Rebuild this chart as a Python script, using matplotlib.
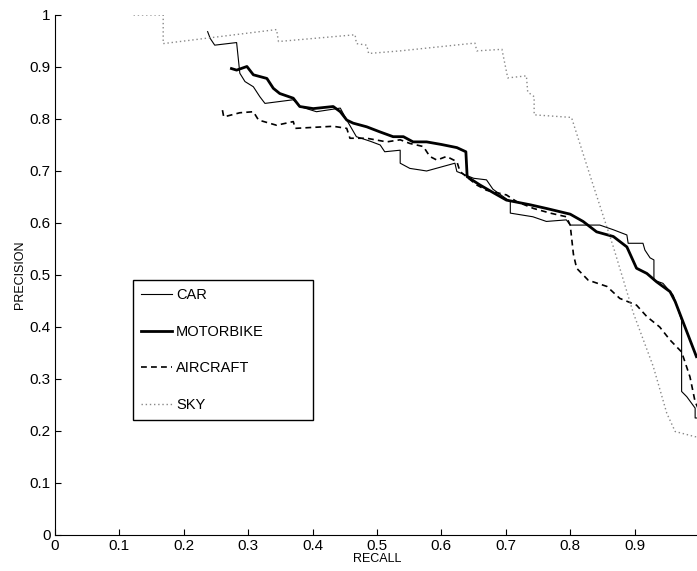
import matplotlib
matplotlib.use("Agg")
import matplotlib.pyplot as plt

plt.rcParams['font.family'] = ['Liberation Sans', 'DejaVu Sans']

car_x = [0.237, 0.241, 0.248, 0.282, 0.287, 0.295, 0.308, 0.318, 0.326, 0.370, 0.380, 0.406, 0.443, 0.453,
         0.468, 0.490, 0.505, 0.512, 0.536, 0.536, 0.551, 0.567, 0.577, 0.621, 0.624, 0.636, 0.650, 0.670,
         0.680, 0.707, 0.707, 0.742, 0.763, 0.794, 0.800, 0.846, 0.867, 0.888, 0.890, 0.913, 0.916, 0.924,
         0.930, 0.930, 0.944, 0.960, 0.973, 0.973, 0.981, 0.994, 0.994, 1.0]
car_y = [0.968, 0.955, 0.942, 0.947, 0.888, 0.872, 0.862, 0.843, 0.830, 0.837, 0.824, 0.814, 0.821, 0.798,
         0.766, 0.757, 0.750, 0.737, 0.740, 0.715, 0.705, 0.702, 0.700, 0.715, 0.699, 0.693, 0.686, 0.683,
         0.665, 0.641, 0.619, 0.612, 0.603, 0.606, 0.596, 0.596, 0.587, 0.577, 0.561, 0.561, 0.548, 0.533,
         0.529, 0.490, 0.484, 0.461, 0.413, 0.276, 0.266, 0.244, 0.225, 0.225]

moto_x = [0.274, 0.282, 0.298, 0.308, 0.329, 0.339, 0.349, 0.370, 0.380, 0.401, 0.432, 0.443, 0.453, 0.463,
          0.484, 0.505, 0.525, 0.541, 0.556, 0.577, 0.600, 0.624, 0.638, 0.640, 0.660, 0.681, 0.701, 0.738,
          0.763, 0.800, 0.820, 0.841, 0.867, 0.888, 0.903, 0.919, 0.934, 0.955, 0.963, 0.996]
moto_y = [0.897, 0.894, 0.901, 0.885, 0.878, 0.859, 0.849, 0.840, 0.824, 0.820, 0.824, 0.814, 0.798, 0.792,
          0.785, 0.775, 0.766, 0.766, 0.756, 0.756, 0.751, 0.745, 0.737, 0.689, 0.673, 0.658, 0.644, 0.635,
          0.628, 0.617, 0.603, 0.583, 0.574, 0.554, 0.513, 0.503, 0.487, 0.468, 0.449, 0.343]

air_x = [0.260, 0.262, 0.287, 0.308, 0.316, 0.344, 0.370, 0.373, 0.432, 0.453, 0.458, 0.484, 0.515, 0.536,
         0.551, 0.572, 0.582, 0.593, 0.608, 0.624, 0.629, 0.655, 0.670, 0.701, 0.717, 0.743, 0.769, 0.794,
         0.800, 0.805, 0.810, 0.828, 0.857, 0.877, 0.903, 0.919, 0.939, 0.955, 0.973, 0.986, 0.994, 1.0]
air_y = [0.817, 0.804, 0.812, 0.814, 0.798, 0.788, 0.795, 0.782, 0.786, 0.782, 0.763, 0.763, 0.756, 0.760,
         0.753, 0.747, 0.728, 0.721, 0.728, 0.718, 0.699, 0.673, 0.663, 0.654, 0.641, 0.628, 0.619, 0.612,
         0.596, 0.540, 0.513, 0.490, 0.478, 0.455, 0.442, 0.420, 0.400, 0.375, 0.352, 0.304, 0.256, 0.240]

sky_x = [0.122, 0.168, 0.168, 0.344, 0.347, 0.466, 0.468, 0.484, 0.487, 0.536, 0.652, 0.655, 0.694, 0.703,
         0.732, 0.734, 0.744, 0.744, 0.802, 0.833, 0.867, 0.898, 0.929, 0.950, 0.963, 0.994, 1.0]
sky_y = [1.0, 1.0, 0.945, 0.972, 0.949, 0.962, 0.945, 0.942, 0.926, 0.931, 0.946, 0.931, 0.934, 0.879,
         0.883, 0.852, 0.843, 0.808, 0.803, 0.683, 0.554, 0.427, 0.324, 0.234, 0.199, 0.189, 0.189]

labels = ["CAR", "MOTORBIKE", "AIRCRAFT", "SKY"]
x_ticks = [0, 0.1, 0.2, 0.3, 0.4, 0.5, 0.6, 0.7, 0.8, 0.9]
x_tick_labels = ["0", "0.1", "0.2", "0.3", "0.4", "0.5", "0.6", "0.7", "0.8", "0.9"]
y_ticks = [0, 0.1, 0.2, 0.3, 0.4, 0.5, 0.6, 0.7, 0.8, 0.9, 1]
y_tick_labels = ["0", "0.1", "0.2", "0.3", "0.4", "0.5", "0.6", "0.7", "0.8", "0.9", "1"]

fig = plt.figure(figsize=(6.97, 5.71), dpi=100)
ax = fig.add_axes([55 / 697, 36 / 571, 644 / 697, 520 / 571])

ax.plot(car_x, car_y, color='black', lw=0.8, label=labels[0])
ax.plot(moto_x, moto_y, color='black', lw=2.0, label=labels[1])
ax.plot(air_x, air_y, color='black', lw=1.2, linestyle=(0, (3.5, 2.5)), label=labels[2])
ax.plot(sky_x, sky_y, color='#888888', lw=1.0, linestyle=(0, (1, 2)), label=labels[3])

ax.set_xlim(0, 1)
ax.set_ylim(0, 1)
ax.set_xticks(x_ticks)
ax.set_xticklabels(x_tick_labels)
ax.set_yticks(y_ticks)
ax.set_yticklabels(y_tick_labels)
ax.tick_params(direction='in', length=4.5, width=0.8, labelsize=11, pad=3)
for s in ['top', 'right']:
    ax.spines[s].set_visible(False)
for s in ['left', 'bottom']:
    ax.spines[s].set_linewidth(0.8)
ax.set_xlabel("RECALL", fontsize=9, labelpad=0)
ax.set_ylabel("PRECISION", fontsize=9, labelpad=3)

leg = ax.legend(loc='upper left',
                bbox_to_anchor=((133 - 55) / 644, (535 - 433) / 520, 180 / 644, 153 / 520),
                mode='expand', fontsize=10.5, labelspacing=1.55, handlelength=2.1,
                handletextpad=0.3, borderpad=0.55, borderaxespad=0, fancybox=False,
                framealpha=1, edgecolor='black')
leg.get_frame().set_linewidth(1.0)

fig.savefig("out.png", dpi=100)
